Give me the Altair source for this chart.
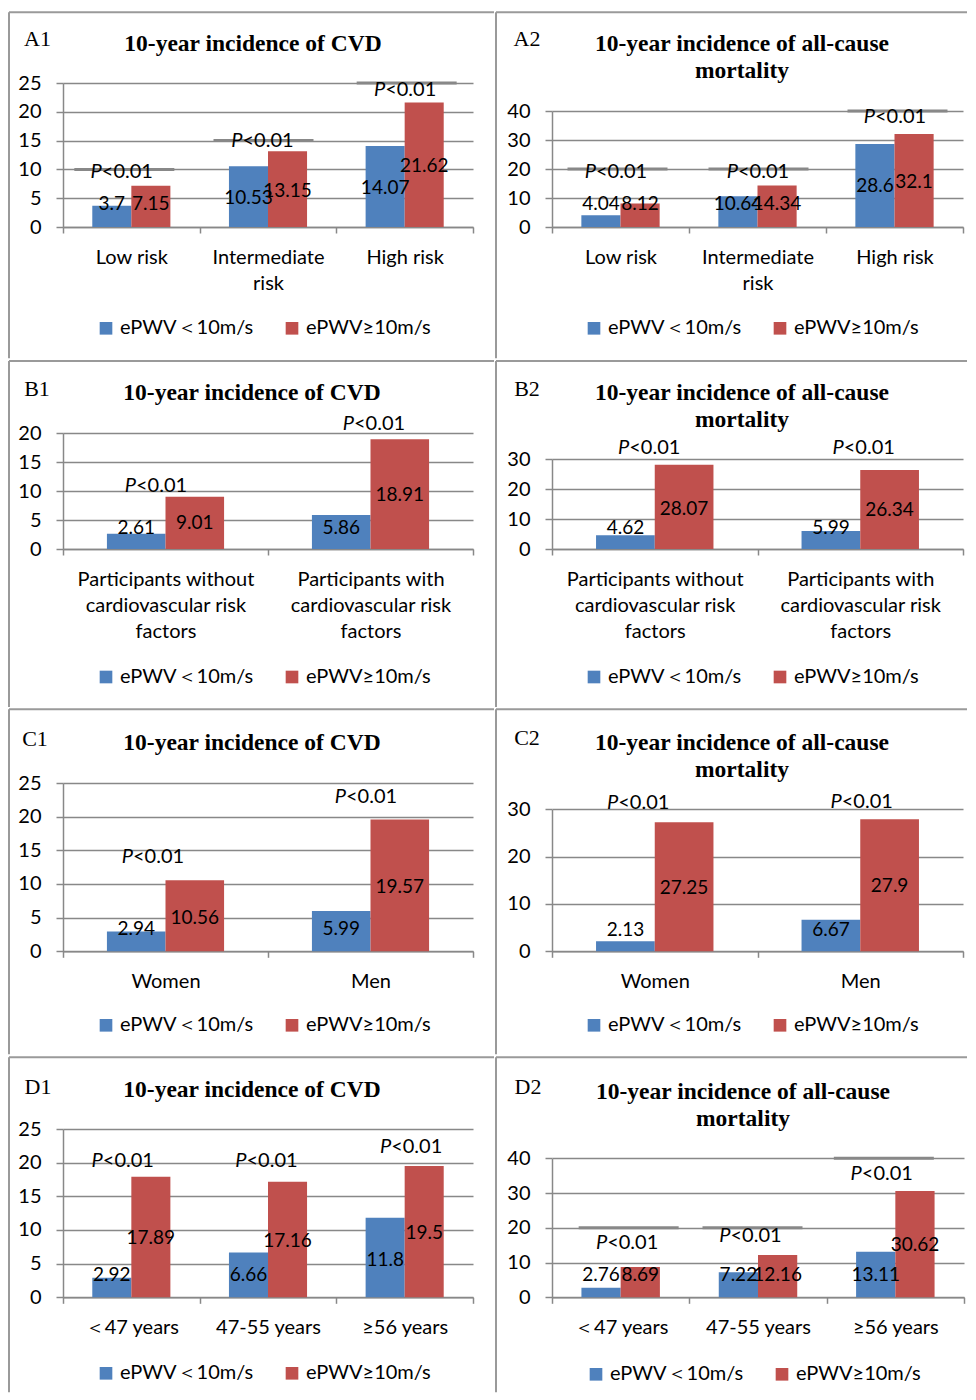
import altair as alt
import pandas as pd

# ---------------- data ----------------
SERIES = ["ePWV＜10m/s", "ePWV≥10m/s"]
COLORS = ["#4F81BD", "#C0504D"]

A_CATS = ["Low risk", "Intermediate risk", "High risk"]
A1_LOW = [3.7, 10.53, 14.07]
A1_HIGH = [7.15, 13.15, 21.62]
A2_LOW = [4.04, 10.64, 28.6]
A2_HIGH = [8.12, 14.34, 32.1]

B_CATS = ["Participants without cardiovascular risk factors",
          "Participants with cardiovascular risk factors"]
B1_LOW = [2.61, 5.86]
B1_HIGH = [9.01, 18.91]
B2_LOW = [4.62, 5.99]
B2_HIGH = [28.07, 26.34]

C_CATS = ["Women", "Men"]
C1_LOW = [2.94, 5.99]
C1_HIGH = [10.56, 19.57]
C2_LOW = [2.13, 6.67]
C2_HIGH = [27.25, 27.9]

D_CATS = ["＜47 years", "47-55 years", "≥56 years"]
D1_LOW = [2.92, 6.66, 11.8]
D1_HIGH = [17.89, 17.16, 19.5]
D2_LOW = [2.76, 7.22, 13.11]
D2_HIGH = [8.69, 12.16, 30.62]

P_TEXT = "<0.01"
TITLE_CVD = "10-year incidence of CVD"
TITLE_MORT = "10-year incidence of all-cause\nmortality"

WRAP = {
    "Intermediate risk": ["Intermediate", "risk"],
    "Participants without cardiovascular risk factors": ["Participants without", "cardiovascular risk", "factors"],
    "Participants with cardiovascular risk factors": ["Participants with", "cardiovascular risk", "factors"],
}

# ---------------- layout (page pixel geometry) ----------------
# plot = (left, top of y-axis, right, bottom of y-axis); row_top = shared origin row line
PANELS = [
    dict(letter="A1", title=TITLE_CVD, cats=A_CATS, low=A1_LOW, high=A1_HIGH, ymax=25, step=5,
         plot=(63, 82.7, 473, 226.7), row_top=82.7, border=(9, 12, 494, 358), title_c=(253, 43),
         letter_c=(37.5, 39), legend=(100, 328), ly_low=[4.0, 5.0, 6.8], ly_high=[4.0, 6.2, 10.6],
         p_y=[9.5, 14.9, 23.8], p_dx=[-10, -6, 0], line_y=[10, 15, 25], line_dx=[-7, -4.5, 2]),
    dict(letter="A2", title=TITLE_MORT, cats=A_CATS, low=A2_LOW, high=A2_HIGH, ymax=40, step=10,
         plot=(552, 110.7, 963, 226.7), row_top=82.7, border=(496, 12, 967, 358), title_c=(742, 43),
         letter_c=(527, 39), legend=(588, 328), ly_low=[7.8, 7.8, 14.0], ly_high=[7.8, 7.8, 15.5],
         p_y=[18.9, 18.9, 37.8], p_dx=[-5, 0, 0], line_y=[20, 20, 40], line_dx=[-3, 1, 3]),
    dict(letter="B1", title=TITLE_CVD, cats=B_CATS, low=B1_LOW, high=B1_HIGH, ymax=20, step=5,
         plot=(63, 432, 473, 548), row_top=432, border=(9, 360, 494, 706), title_c=(252, 391),
         letter_c=(37, 388), legend=(100, 676), ly_low=[3.6, 3.6], ly_high=[4.5, 9.3],
         p_y=[10.9, 21.6], p_dx=[-10, 3], line_y=[], line_dx=[]),
    dict(letter="B2", title=TITLE_MORT, cats=B_CATS, low=B2_LOW, high=B2_HIGH, ymax=30, step=10,
         plot=(552, 458, 963, 548), row_top=432, border=(496, 360, 967, 706), title_c=(742, 391),
         letter_c=(527, 388), legend=(588, 676), ly_low=[7.0, 7.0], ly_high=[13.3, 13.0],
         p_y=[33.7, 33.7], p_dx=[-6, 3], line_y=[], line_dx=[]),
    dict(letter="C1", title=TITLE_CVD, cats=C_CATS, low=C1_LOW, high=C1_HIGH, ymax=25, step=5,
         plot=(63, 781.7, 473, 950), row_top=781.7, border=(9, 708, 494, 1053), title_c=(252, 741),
         letter_c=(35, 738), legend=(100, 1024), ly_low=[3.3, 3.3], ly_high=[5.0, 9.5],
         p_y=[14.0, 22.9], p_dx=[-13, -5], line_y=[], line_dx=[]),
    dict(letter="C2", title=TITLE_MORT, cats=C_CATS, low=C2_LOW, high=C2_HIGH, ymax=30, step=10,
         plot=(552, 808, 963, 950), row_top=781.7, border=(496, 708, 967, 1053), title_c=(742, 741),
         letter_c=(527, 737), legend=(588, 1024), ly_low=[4.6, 4.6], ly_high=[13.3, 13.9],
         p_y=[31.3, 31.5], p_dx=[-17, 1], line_y=[], line_dx=[]),
    dict(letter="D1", title=TITLE_CVD, cats=D_CATS, low=D1_LOW, high=D1_HIGH, ymax=25, step=5,
         plot=(63, 1126.7, 473, 1295), row_top=1126.7, border=(9, 1055, 494, 1390), title_c=(252, 1087),
         letter_c=(38, 1085), legend=(100, 1371), ly_low=[3.3, 3.3, 5.6], ly_high=[8.85, 8.3, 9.5],
         p_y=[20.2, 20.2, 22.3], p_dx=[-9, -2, 6], line_y=[], line_dx=[]),
    dict(letter="D2", title=TITLE_MORT, cats=D_CATS, low=D2_LOW, high=D2_HIGH, ymax=40, step=10,
         plot=(552, 1156, 964, 1295), row_top=1126.7, border=(496, 1055, 967, 1390), title_c=(743, 1089),
         letter_c=(528, 1085), legend=(590, 1372), ly_low=[6.5, 6.5, 6.5], ly_high=[6.5, 6.5, 15.0],
         p_y=[15.6, 17.6, 35.4], p_dx=[6, -8, -14], line_y=[20, 20, 40], line_dx=[8, -5.5, -11.5]),
]

GRID = "#888888"
BORDER = "#9a9a9a"
SANS = "Lato"
SERIF = "Liberation Serif"
FS = 20
TITLE_FS = 23.5
LETTER_FS = 22
P_SPLIT = -19.5


def wrap_expr(cats):
    parts = []
    for c in cats:
        if c in WRAP:
            arr = ",".join("'" + s + "'" for s in WRAP[c])
            parts.append(f"datum.label == '{c}' ? [{arr}] : ")
    return "".join(parts) + "datum.label"


def build(p):
    px0, ptop, px1, pbot = p["plot"]
    oy = p["row_top"]
    bx0, by0, bx1, by1 = p["border"]
    W, H = px1 - px0, pbot - oy
    cats = p["cats"]

    rows = []
    for i, c in enumerate(cats):
        rows.append({"cat": c, "series": SERIES[0], "value": p["low"][i],
                     "label": f"{p['low'][i]:g}", "ly": p["ly_low"][i]})
        rows.append({"cat": c, "series": SERIES[1], "value": p["high"][i],
                     "label": f"{p['high'][i]:g}", "ly": p["ly_high"][i]})
    df = pd.DataFrame(rows)

    xaxis = alt.Axis(title=None, labelAngle=0, labelFont=SANS, labelFontSize=FS, labelColor="black",
                     labelPadding=14, labelBaseline="top", labelLineHeight=26, labelOverlap=False,
                     labelLimit=400, labelExpr=wrap_expr(cats), tickBand="extent", tickSize=6,
                     tickColor=GRID, tickWidth=1.5, domainColor=GRID, domainWidth=1.5, grid=False)
    yaxis = alt.Axis(title=None, values=list(range(0, p["ymax"] + 1, p["step"])), format="d",
                     labelFont=SANS, labelFontSize=FS, labelColor="black", labelPadding=15,
                     labelOverlap=False, tickSize=7, tickColor=GRID, tickWidth=1.5,
                     domainColor=GRID, domainWidth=1.5, grid=True, gridColor=GRID, gridWidth=1.5)
    xscale = alt.Scale(domain=cats, paddingInner=0, paddingOuter=0)
    yscale = alt.Scale(domain=[0, p["ymax"]], nice=False, zero=True, range=[H, ptop - oy])

    def X():
        return alt.X("cat:N", scale=xscale, axis=xaxis)

    def Y(field):
        return alt.Y(f"{field}:Q", scale=yscale, axis=yaxis)

    xoff = alt.XOffset("series:N", sort=SERIES,
                       scale=alt.Scale(domain=SERIES, paddingInner=0, paddingOuter=0.75))

    one = pd.DataFrame({"k": [0]})
    layers = []

    # panel frame lines
    layers.append(alt.Chart(one).mark_rule(color=BORDER, strokeWidth=2).encode(
        x=alt.value(bx0 - px0), x2=alt.value(bx1 - px0), y=alt.value(by0 - oy)))
    layers.append(alt.Chart(one).mark_rule(color=BORDER, strokeWidth=2).encode(
        x=alt.value(bx0 - px0), y=alt.value(by0 - oy), y2=alt.value(by1 - oy)))

    # bars
    legend = alt.Legend(orient="none", legendX=p["legend"][0] - 4 - px0, legendY=p["legend"][1] - 10 - oy,
                        direction="horizontal", title=None, symbolType="square", symbolSize=160,
                        symbolStrokeWidth=0, labelFont=SANS, labelFontSize=FS, labelColor="black",
                        labelOffset=4, columnPadding=28, padding=0, labelLimit=400)
    layers.append(alt.Chart(df).mark_bar().encode(
        x=X(), xOffset=xoff, y=Y("value"),
        color=alt.Color("series:N", sort=SERIES, scale=alt.Scale(domain=SERIES, range=COLORS), legend=legend)))

    # value labels
    layers.append(alt.Chart(df).mark_text(font=SANS, fontSize=19, color="black", baseline="middle",
                                          align="center").encode(
        x=X(), xOffset=xoff, y=Y("ly"), text="label:N"))

    # significance lines
    for c, ly, dx in zip(cats, p["line_y"], p["line_dx"]):
        d1 = pd.DataFrame({"cat": [c], "ly": [ly]})
        layers.append(alt.Chart(d1).mark_tick(orient="horizontal", size=100, thickness=3,
                                              color=GRID, xOffset=dx, opacity=1).encode(
            x=X(), y=Y("ly")))

    # P<0.01 labels
    for c, py, dx in zip(cats, p["p_y"], p["p_dx"]):
        d1 = pd.DataFrame({"cat": [c], "py": [py]})
        layers.append(alt.Chart(d1).mark_text(font=SANS, fontSize=FS, fontStyle="italic", color="black",
                                              align="right", baseline="middle", dx=dx + P_SPLIT).encode(
            x=X(), y=Y("py"), text=alt.value("P")))
        layers.append(alt.Chart(d1).mark_text(font=SANS, fontSize=FS, color="black",
                                              align="left", baseline="middle", dx=dx + P_SPLIT).encode(
            x=X(), y=Y("py"), text=alt.value(P_TEXT)))

    # title and panel letter
    layers.append(alt.Chart(one).mark_text(font=SERIF, fontSize=TITLE_FS, fontWeight="bold", color="black",
                                           align="center", baseline="top", lineBreak="\n",
                                           lineHeight=27).encode(
        x=alt.value(p["title_c"][0] - px0), y=alt.value(p["title_c"][1] - oy - 0.46 * TITLE_FS),
        text=alt.value(p["title"])))
    layers.append(alt.Chart(one).mark_text(font=SERIF, fontSize=LETTER_FS, color="black",
                                           align="center", baseline="top").encode(
        x=alt.value(p["letter_c"][0] - px0), y=alt.value(p["letter_c"][1] - oy - 0.46 * LETTER_FS),
        text=alt.value(p["letter"])))

    return alt.layer(*layers).properties(width=W, height=H)


charts = [build(p) for p in PANELS]

chart = alt.concat(*charts, columns=2, spacing=0, align="each").resolve_scale(
    x="independent", y="independent", xOffset="independent", color="independent"
).resolve_legend(color="independent").properties(
    padding={"left": 0, "top": 3, "right": 0, "bottom": 0},
    background="white",
).configure_view(stroke=None)

chart.save("out.html", embed_options={"renderer": "svg", "actions": False})
